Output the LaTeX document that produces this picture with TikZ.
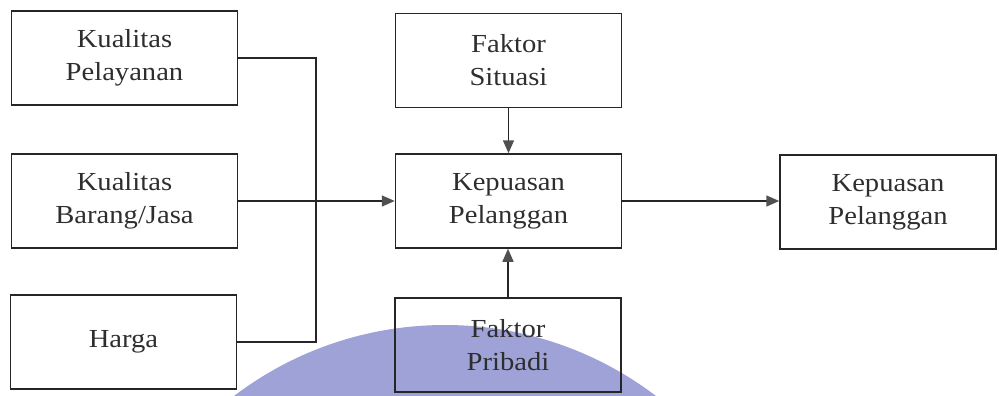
\documentclass[tikz,border=0pt]{standalone}
\usepackage{fontspec}
\setmainfont{Liberation Serif}[FakeStretch=1.1]
\usetikzlibrary{arrows.meta}
\definecolor{disc}{RGB}{158,162,214}
\definecolor{tipgray}{RGB}{80,80,80}
\begin{document}
\begin{tikzpicture}[x=1pt,y=-1pt,
  box/.style={draw=black!85,line width=1.5pt,minimum width=226pt,minimum height=94pt,
    inner sep=0pt,align=center,font=\fontsize{26}{33}\selectfont,text=black!82},
  link/.style={draw=black!85,line width=1.5pt},
  arr/.style={link,-{Triangle[length=13pt,width=11pt,fill=tipgray,color=tipgray]}}]
  \useasboundingbox (0,0) rectangle (999,396);
  % background disc
  \begin{scope}
    \clip (0,0) rectangle (999,396);
    \fill[disc] (445,674) circle[radius=349];
  \end{scope}
  % left column
  \node[box] (kp) at (124.5,58) {Kualitas\\Pelayanan};
  \node[box] (kb) at (124.5,201) {Kualitas\\Barang/Jasa};
  \node[box] (hg) at (123.5,342) {Harga};
  % middle column
  \node[box] (fs) at (508.5,60.5) {Faktor\\Situasi};
  \node[box] (kep) at (508.5,201) {Kepuasan\\Pelanggan};
  \node[box] (fp) at (508,345) {Faktor\\Pribadi};
  % result
  \node[box,minimum width=216pt] (res) at (888,202) {Kepuasan\\Pelanggan};
  % bracket joining the left column
  \coordinate (jt) at (316,58);
  \coordinate (jb) at (316,342);
  \draw[link] (kp.east) -- (jt) -- (jb) -- (hg.east);
  % arrows
  \draw[arr] (kb.east) -- (kep.west);
  \draw[arr] (fs.south) -- (kep.north);
  \draw[arr] (fp.north) -- (fp.north |- kep.south);
  \draw[arr] (kep.east) -- (res.west |- kep.east);
\end{tikzpicture}
\end{document}
